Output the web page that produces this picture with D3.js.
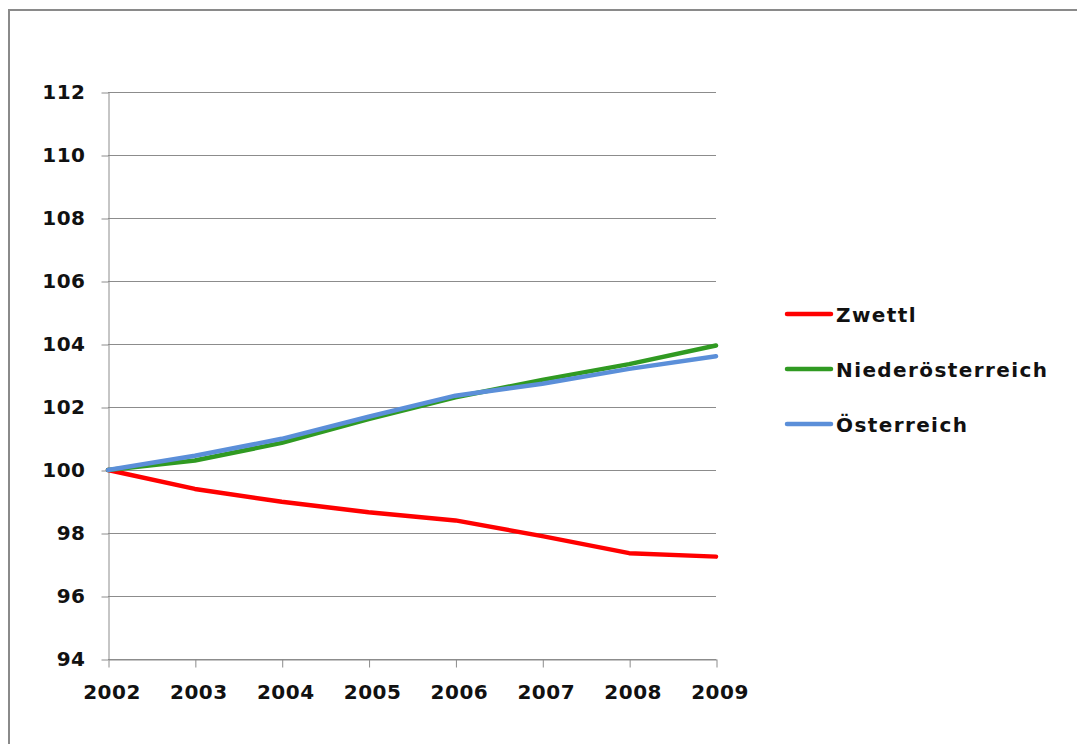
<!DOCTYPE html>
<html>
<head>
<meta charset="utf-8">
<script src="https://cdn.jsdelivr.net/npm/d3@7"></script>
<style>
  body { margin: 0; background: #fff; }
  svg text { font-family: 'DejaVu Sans', Verdana, sans-serif; font-weight: bold; fill: #111; }
  .axis path, .axis line { stroke: #8c8c8c; }
</style>
</head>
<body>
<div id="chart"></div>
<script>
// data
const years = [2002, 2003, 2004, 2005, 2006, 2007, 2008, 2009];
const zwettl = [100, 99.4, 98.99, 98.66, 98.4, 97.9, 97.36, 97.25];
const niederoesterreich = [100, 100.3, 100.86, 101.62, 102.31, 102.86, 103.36, 103.95];
const oesterreich = [100, 100.45, 100.99, 101.69, 102.36, 102.74, 103.21, 103.61];
const seriesNames = ['Zwettl', 'Niederösterreich', 'Österreich'];
const seriesColors = ['#ff0000', '#309a22', '#5b8fd9'];
const yTicks = [94, 96, 98, 100, 102, 104, 106, 108, 110, 112];

const W = 1077, H = 744;
const margin = { top: 92, right: 361, bottom: 85, left: 108 };
const width = W - margin.left - margin.right;
const height = H - margin.top - margin.bottom;

const svg = d3.select('#chart').append('svg')
  .attr('width', W)
  .attr('height', H);

// outer frame (right and bottom edges fall outside the picture)
svg.append('path')
  .attr('d', `M9,${H + 5}V10H${W + 5}`)
  .attr('fill', 'none')
  .attr('stroke', '#8a8a8a')
  .attr('stroke-width', 2);

const chart = svg.append('g')
  .attr('transform', `translate(${margin.left},${margin.top})`);

const x = d3.scalePoint()
  .domain(years)
  .range([0, width]);

const y = d3.scaleLinear()
  .domain([94, 112])
  .range([height, 0]);

// grid lines
chart.append('g')
  .selectAll('line')
  .data(yTicks)
  .enter().append('line')
  .attr('x1', 0)
  .attr('x2', width)
  .attr('y1', d => Math.round(y(d)) + 0.5)
  .attr('y2', d => Math.round(y(d)) + 0.5)
  .attr('stroke', '#8c8c8c')
  .attr('stroke-width', 1);

const yaxis = d3.axisLeft(y)
  .tickValues(yTicks)
  .tickSize(7)
  .tickSizeOuter(0)
  .tickPadding(16);

chart.append('g')
  .attr('class', 'y axis')
  .attr('transform', 'translate(0.5,0.5)')
  .call(yaxis)
  .selectAll('text')
  .style('font-size', '20px')
  .style('letter-spacing', '0.5px');

const xaxis = d3.axisBottom(x)
  .tickSize(8)
  .tickSizeOuter(0)
  .tickPadding(17);

chart.append('g')
  .attr('class', 'x axis')
  .attr('transform', `translate(0.5,${Math.round(height) + 0.5})`)
  .call(xaxis)
  .selectAll('text')
  .style('font-size', '20px')
  .style('letter-spacing', '0.5px')
  .attr('dx', '3');

// lines
const allSeries = [zwettl, niederoesterreich, oesterreich];
const line = d3.line()
  .x((d, i) => x(years[i]))
  .y(d => y(d));

chart.selectAll('.series')
  .data(allSeries)
  .enter().append('path')
  .attr('class', 'series')
  .attr('d', line)
  .attr('fill', 'none')
  .attr('stroke', (d, i) => seriesColors[i])
  .attr('stroke-width', 4.5)
  .attr('stroke-linejoin', 'round')
  .attr('stroke-linecap', 'round');

// legend
const legend = svg.append('g')
  .attr('transform', 'translate(787,314)');

const items = legend.selectAll('.item')
  .data(seriesNames)
  .enter().append('g')
  .attr('class', 'item')
  .attr('transform', (d, i) => `translate(0,${i * 55})`);

items.append('line')
  .attr('x1', 0)
  .attr('x2', 44)
  .attr('stroke', (d, i) => seriesColors[i])
  .attr('stroke-width', 4.5)
  .attr('stroke-linecap', 'round');

items.append('text')
  .attr('x', 49)
  .attr('y', 8)
  .style('font-size', '20px')
  .style('letter-spacing', '1.4px')
  .text(d => d);
</script>
</body>
</html>
